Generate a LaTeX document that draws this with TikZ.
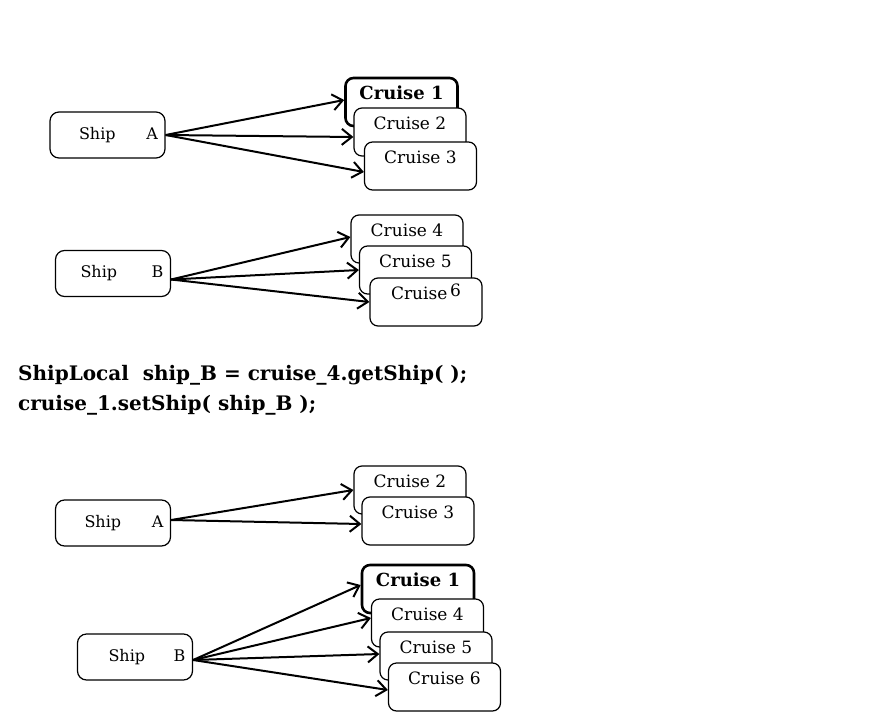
\documentclass[tikz,border=0pt]{standalone}
\usepackage{fontspec}
\setmainfont{DejaVu Serif}
\usetikzlibrary{arrows.meta}

\begin{document}
\begin{tikzpicture}[x=1pt,y=-1pt,>={Straight Barb[length=10pt,width=16pt]},
  ship/.style={shape=rectangle,rounded corners=9pt,draw=black,fill=white,line width=1.2pt,minimum width=115pt,minimum height=46pt,inner xsep=7pt,text width=101pt,font=\fontsize{16}{18}\selectfont},
  cruise/.style={shape=rectangle,rounded corners=8pt,draw=black,fill=white,line width=1.2pt,minimum width=112pt,minimum height=48pt,inner sep=4pt,text height=15pt,text depth=21pt,font=\fontsize{17}{19}\selectfont},
  first/.style={cruise,line width=2.6pt,font=\fontsize{18}{20}\selectfont\bfseries},
  code/.style={anchor=base west,inner sep=0pt,font=\fontsize{20}{24}\selectfont\bfseries},
  arr/.style={->,draw=black,line width=2pt}]
\useasboundingbox (0,0) rectangle (888,717);

% ship A with three cruises
\node[ship] (0) at (107.5,135) {\hspace*{22pt}Ship\hfill A};
\node[first] (1) at (401.5,102) {Cruise 1};
\node[cruise] (2) at (410,132) {Cruise 2};
\node[cruise] (3) at (420.5,166) {Cruise 3};

% ship B with three cruises
\node[ship] (4) at (113,273.5) {\hspace*{18pt}Ship\hfill B};
\node[cruise] (5) at (407,239) {Cruise 4};
\node[cruise] (6) at (415.5,270) {Cruise 5};
\node[cruise] (7) at (426,302) {Cruise\,\raisebox{3pt}{6}};

\path (0.east) edge[arr] ([yshift=2pt]1.west);
\path (0.east) edge[arr] ([yshift=-5pt]2.west);
\path (0.east) edge[arr] ([yshift=-6pt]3.west);
\path ([yshift=-6pt]4.east) edge[arr] ([yshift=2pt]5.west);
\path ([yshift=-6pt]4.east) edge[arr] (6.west);
\path ([yshift=-6pt]4.east) edge[arr] (7.west);

% the two calls
\node[code] (8) at (18,380) {ShipLocal\ \ ship\_B = cruise\_4.getShip( );};
\node[code] (9) at (18,410) {cruise\_1.setShip( ship\_B );};

% after the call: ship A keeps two cruises
\node[ship] (10) at (113,523) {\hspace*{22pt}Ship\hfill A};
\node[cruise] (11) at (410,490) {Cruise 2};
\node[cruise] (12) at (418,521) {Cruise 3};

% ship B now has four
\node[ship] (13) at (135,657) {\hspace*{24pt}Ship\hfill B};
\node[first] (14) at (418,589) {Cruise 1};
\node[cruise] (15) at (427.5,623) {Cruise 4};
\node[cruise] (16) at (436,656) {Cruise 5};
\node[cruise] (17) at (444.5,687) {Cruise 6};

\path ([yshift=3pt]10.east) edge[arr] (11.west);
\path ([yshift=3pt]10.east) edge[arr] ([yshift=-3pt]12.west);
\path ([yshift=-3pt]13.east) edge[arr] ([yshift=4pt]14.west);
\path ([yshift=-3pt]13.east) edge[arr] ([yshift=5pt]15.west);
\path ([yshift=-3pt]13.east) edge[arr] ([yshift=2pt]16.west);
\path ([yshift=-3pt]13.east) edge[arr] ([yshift=-3pt]17.west);
\end{tikzpicture}
\end{document}
